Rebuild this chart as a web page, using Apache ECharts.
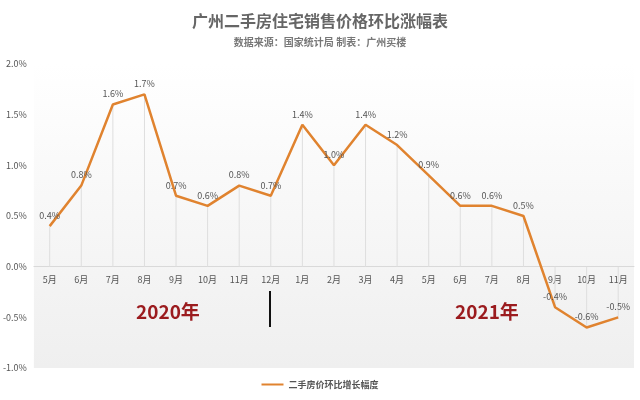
<!DOCTYPE html>
<html><head><meta charset="utf-8">
<script src="https://cdn.jsdelivr.net/npm/echarts@6/dist/echarts.min.js"></script>
<style>html,body{margin:0;padding:0;background:#fff}#c{width:640px;height:400px}</style>
</head><body><div id="c"></div>
<script>
const categories = ['5月','6月','7月','8月','9月','10月','11月','12月','1月','2月','3月','4月','5月','6月','7月','8月','9月','10月','11月'];
const values = [0.4,0.8,1.6,1.7,0.7,0.6,0.8,0.7,1.4,1.0,1.4,1.2,0.9,0.6,0.6,0.5,-0.4,-0.6,-0.5];
const seriesName = '二手房价环比增长幅度';
const yearLabels = ['2020年','2021年'];
const yMin = -1, yMax = 2;

const chart = echarts.init(document.getElementById('c'));
const font = '"Noto Sans CJK SC", "Noto Sans", sans-serif';
const gridTop = 64, gridBottom = 32, H = 400;
const plotH = H - gridTop - gridBottom;
const zeroOffset = -plotH * (0 - yMin) / (yMax - yMin);

chart.setOption({
  animation: false,
  textStyle: {fontFamily: font},
  title: {
    text: '广州二手房住宅销售价格环比涨幅表',
    subtext: '数据来源：国家统计局 制表：广州买楼',
    left: 'center', top: 8, itemGap: 8,
    textStyle: {fontSize: 16, fontWeight: 'bold', color: '#666', fontFamily: font},
    subtextStyle: {fontSize: 10, fontWeight: 'bold', color: '#777', fontFamily: font}
  },
  legend: {
    bottom: 6, left: 'center', itemWidth: 22, itemHeight: 8, itemGap: 4,
    icon: 'path://M0,4 L22,4 L22,6 L0,6 Z',
    textStyle: {fontSize: 9, color: '#555', fontWeight: 'bold'},
    data: [seriesName]
  },
  grid: {
    left: 32, right: 6, top: gridTop, bottom: gridBottom,
    show: true, borderWidth: 0,
    backgroundColor: new echarts.graphic.LinearGradient(0,0,0,1,[{offset:0,color:'#ffffff'},{offset:1,color:'#efefef'}])
  },
  xAxis: {
    type: 'category', data: categories, boundaryGap: true,
    offset: zeroOffset,
    axisLine: {onZero: false, lineStyle: {color: '#d9d9d9'}},
    axisTick: {show: false},
    axisLabel: {fontSize: 9, color: '#555', margin: 8, interval: 0}
  },
  yAxis: {
    type: 'value', min: yMin, max: yMax, interval: 0.5,
    axisLine: {show: false}, axisTick: {show: false},
    splitLine: {show: false},
    axisLabel: {fontSize: 9, color: '#555', margin: 7, formatter: v => v.toFixed(1) + '%'}
  },
  series: [
    {
      type: 'bar', data: values, barWidth: 1, silent: true,
      itemStyle: {color: '#dedede'}, legendHoverLink: false, tooltip: {show: false}
    },
    {
      name: seriesName, type: 'line', data: values,
      showSymbol: true, symbol: 'circle', symbolSize: 0.1,
      lineStyle: {color: '#E0832F', width: 2.5},
      itemStyle: {color: '#E0832F'},
      label: {show: true, position: 'top', fontSize: 9, color: '#555', distance: 6,
        formatter: p => p.value.toFixed(1) + '%'}
    }
  ],
  graphic: [
    {type: 'text', left: 136, top: 302, style: {text: yearLabels[0], fontSize: 19, fontWeight: 'bold', fill: '#9B1B1E', fontFamily: font}},
    {type: 'text', left: 455, top: 302, style: {text: yearLabels[1], fontSize: 19, fontWeight: 'bold', fill: '#9B1B1E', fontFamily: font}},
    {type: 'line', shape: {x1: 270, y1: 291, x2: 270, y2: 327}, style: {stroke: '#111', lineWidth: 2}}
  ]
});
</script></body></html>
